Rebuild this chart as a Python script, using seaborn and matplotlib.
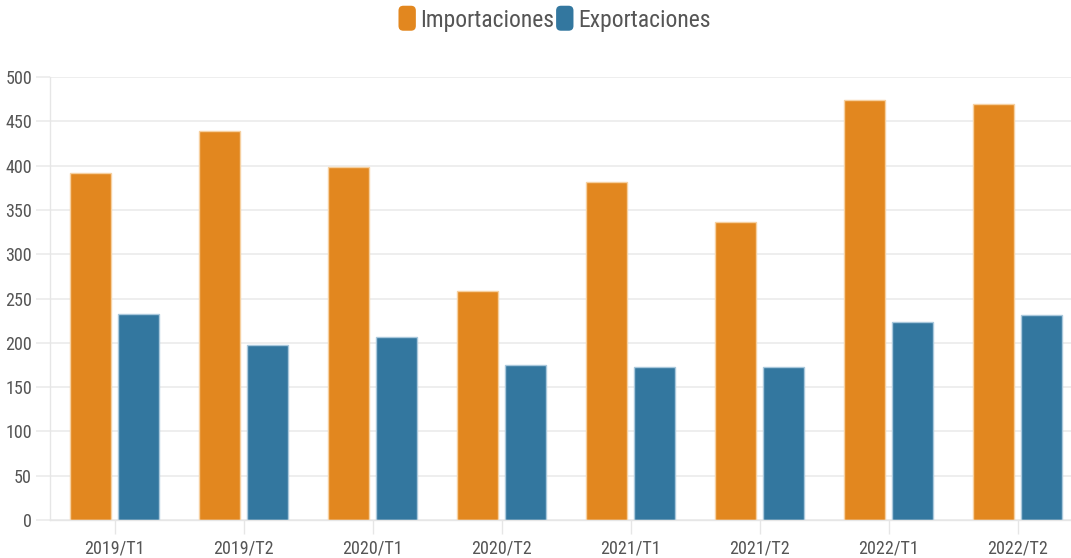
import matplotlib
matplotlib.use("Agg")
import matplotlib.pyplot as plt
import seaborn as sns
import pandas as pd
from matplotlib import font_manager as fm
from matplotlib.patches import FancyBboxPatch, Patch
from matplotlib.legend_handler import HandlerPatch

categories = ["2019/T1", "2019/T2", "2020/T1", "2020/T2", "2021/T1", "2021/T2", "2022/T1", "2022/T2"]
importaciones = [392, 439, 398, 258, 381.5, 336.5, 474, 469.5]
exportaciones = [232.5, 198, 206.5, 175, 173, 173, 223, 231.5]
series_names = ["Importaciones", "Exportaciones"]
yticks = [0, 50, 100, 150, 200, 250, 300, 350, 400, 450, 500]

colors = ["#E2871F", "#33779F"]
edge_colors = ["#F6D0A0", "#A9C8DC"]

df = pd.DataFrame({
    "cat": categories * 2,
    "serie": [series_names[0]] * len(categories) + [series_names[1]] * len(categories),
    "valor": importaciones + exportaciones,
})

sns.set_theme(style="white")

ttf = fm.fontManager.ttflist
prefs = ["Open Sans Condensed", "Roboto Condensed", "Fira Sans Condensed",
         "IBM Plex Sans Condensed", "Sofia Sans Semi Condensed", "Liberation Sans Narrow", "Open Sans"]
font_file = None
for static_only in (True, False):
    for p in prefs:
        cands = [f for f in ttf if f.name == p and f.style == "normal"
                 and isinstance(f.weight, int) and 300 <= f.weight <= 400
                 and (("[" not in f.fname) or not static_only)]
        if cands:
            cands.sort(key=lambda f: abs(f.weight - 400))
            font_file = cands[0].fname
            break
    if font_file:
        break


def tp(size):
    if font_file:
        return fm.FontProperties(fname=font_file, size=size)
    return fm.FontProperties(family="DejaVu Sans", size=size)


W, H = 1071, 558
fig = plt.figure(figsize=(W / 100, H / 100), dpi=100)
ax_left = 50 / W
ax_bottom = (H - 520) / H
ax_top = (H - 77) / H
ax_right = 1082 / W
ax = fig.add_axes([ax_left, ax_bottom, ax_right - ax_left, ax_top - ax_bottom])

sns.barplot(data=df, x="cat", y="valor", hue="serie", hue_order=series_names,
            palette=colors, width=0.744, gap=0.146, ax=ax, legend=False,
            saturation=1)

for i, cont in enumerate(ax.containers):
    for bar in cont:
        bar.set_edgecolor(edge_colors[i])
        bar.set_linewidth(1.0)

ax.set_xlim(-0.5, len(categories) - 0.5)
ax.set_ylim(0, 500)
ax.set_yticks(yticks)
ax.set_yticklabels([str(v) for v in yticks])
ax.set_xlabel("")
ax.set_ylabel("")

ax.grid(axis="y", color="#EBEBEB", linewidth=1.2)
ax.set_axisbelow(True)
for s in ["top", "right"]:
    ax.spines[s].set_visible(False)
for s in ["left", "bottom"]:
    ax.spines[s].set_color("#E6E6E6")
    ax.spines[s].set_linewidth(1.0)

ax.tick_params(axis="y", length=10, color="#EBEBEB", width=1.2,
               labelcolor="#555555", pad=3, left=True)
ax.tick_params(axis="x", length=10, color="#E6E6E6", width=1.0,
               labelcolor="#555555", pad=4, bottom=True)
for lab in ax.get_xticklabels() + ax.get_yticklabels():
    lab.set_fontproperties(tp(13))


class HandlerRound(HandlerPatch):
    def create_artists(self, legend, orig_handle, xdescent, ydescent, width, height, fontsize, trans):
        w = 12.5
        h = 18
        x = (width - w) / 2 - xdescent
        y = (height - h) / 2 - ydescent
        p = FancyBboxPatch((x, y), w, h, boxstyle="round,pad=0,rounding_size=3.5",
                           facecolor=orig_handle.get_facecolor(), edgecolor="none",
                           transform=trans)
        return [p]


handles = [Patch(facecolor=c, label=n) for c, n in zip(colors, series_names)]
leg = fig.legend(handles=handles, loc="center", bbox_to_anchor=(554 / W, 1 - 20 / H),
                 ncol=2, frameon=False, prop=tp(17), handlelength=0.8,
                 handletextpad=0.15, columnspacing=0.05,
                 handler_map={Patch: HandlerRound()})
for t in leg.get_texts():
    t.set_color("#555555")

fig.savefig("out.png", dpi=100)
